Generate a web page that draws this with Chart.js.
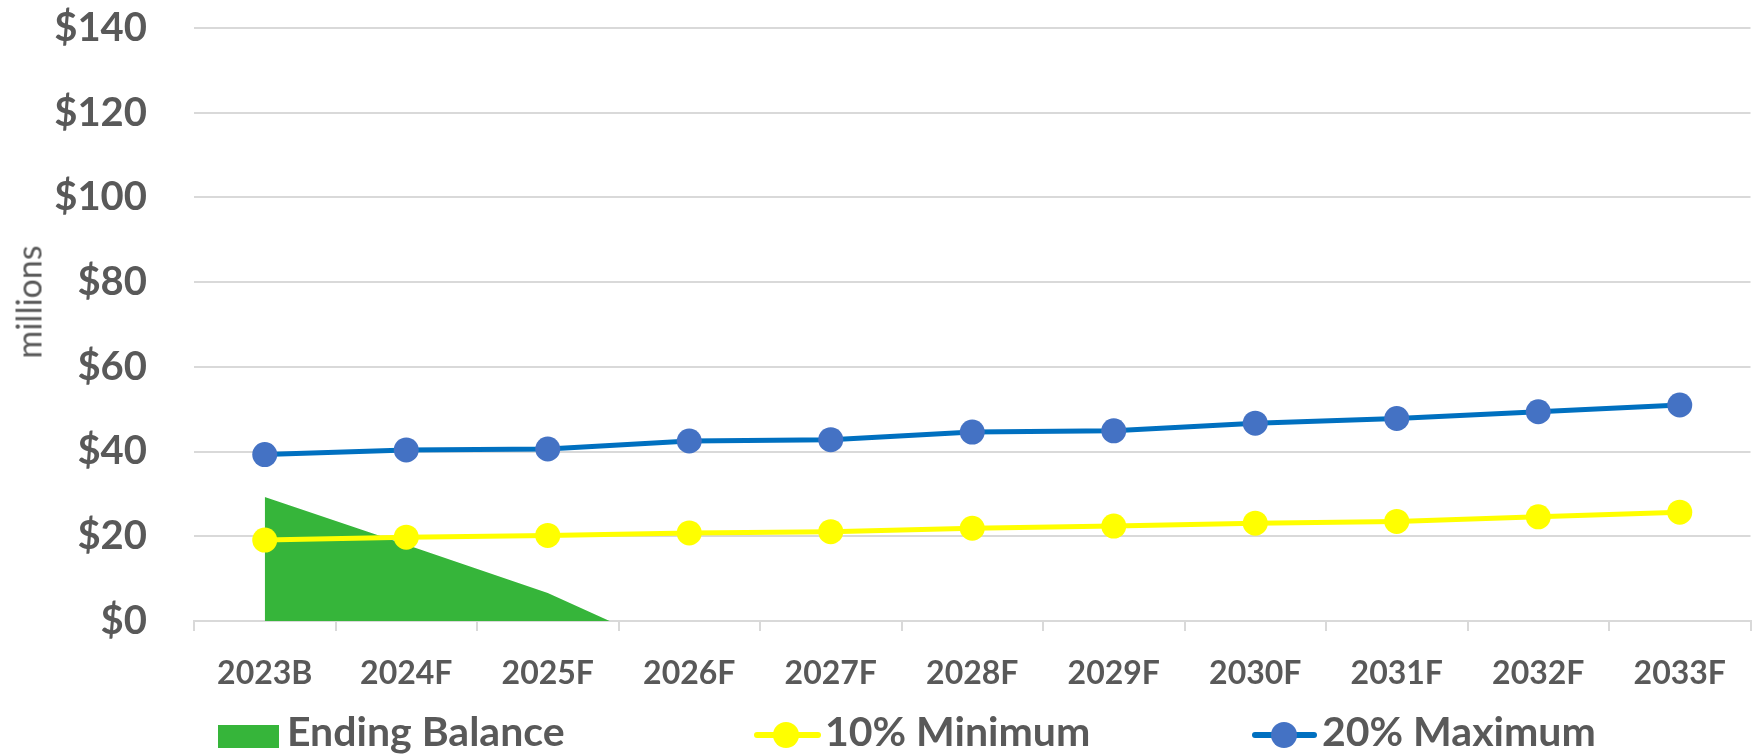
<!DOCTYPE html>
<html>
<head>
<meta charset="utf-8">
<script src="https://cdn.jsdelivr.net/npm/chart.js@4.4.9/dist/chart.umd.min.js"></script>
<style>
  html, body { margin:0; padding:0; background:#fff; }
  #wrap { position:relative; width:1763px; height:755px; font-family:Lato, sans-serif; color:#595959; }
  #chart { position:absolute; left:0; top:0; }
  .ytitle { position:absolute; left:28px; top:302px; font-size:34px; transform:translate(-50%,-50%) rotate(-90deg); white-space:nowrap; }
  .leg { position:absolute; top:713px; font-size:41px; font-weight:bold; line-height:36px; white-space:nowrap; }
  .sw { position:absolute; }
</style>
</head>
<body>
<div id="wrap">
  <canvas id="chart" width="1763" height="755"></canvas>
  <div class="ytitle">millions</div>
  <!-- legend -->
  <div class="sw" style="left:218px;top:725px;width:61px;height:23px;background:#36b53a"></div>
  <div class="leg" style="left:287px">Ending Balance</div>
  <div class="sw" style="left:754px;top:732px;width:67px;height:6px;background:#ffff00;border-radius:3px"></div>
  <div class="sw" style="left:773px;top:722px;width:26px;height:26px;background:#ffff00;border-radius:50%"></div>
  <div class="leg" style="left:825px">10% Minimum</div>
  <div class="sw" style="left:1252px;top:732px;width:65px;height:6px;background:#0070c0;border-radius:3px"></div>
  <div class="sw" style="left:1271px;top:722px;width:26px;height:26px;background:#4472c4;border-radius:50%"></div>
  <div class="leg" style="left:1322px">20% Maximum</div>
</div>
<script>
/* data */
const years = ['2023B','2024F','2025F','2026F','2027F','2028F','2029F','2030F','2031F','2032F','2033F'];
const endingBalance = [29.3, 18.0, 6.6, -8.5, -20, -31, -42, -53, -64, -75, -86];
const minimum10 = [19.1, 19.8, 20.2, 20.8, 21.1, 21.9, 22.4, 23.1, 23.5, 24.6, 25.7];
const maximum20 = [39.3, 40.4, 40.6, 42.5, 42.8, 44.6, 44.9, 46.7, 47.8, 49.4, 51.0];
const yTicks = [0, 20, 40, 60, 80, 100, 120, 140];

const grey = '#595959', gridCol = '#d9d9d9';

new Chart(document.getElementById('chart').getContext('2d'), {
  type: 'line',
  data: {
    labels: years,
    datasets: [
      { label:'Ending Balance', data:endingBalance, fill:'origin', backgroundColor:'#36b53a',
        borderWidth:0, pointRadius:0, tension:0, order:3 },
      { label:'10% Minimum', data:minimum10, borderColor:'#ffff00', borderWidth:5,
        pointRadius:12.5, pointBackgroundColor:'#ffff00', pointBorderWidth:0, tension:0, order:2 },
      { label:'20% Maximum', data:maximum20, borderColor:'#0070c0', borderWidth:5,
        pointRadius:12.5, pointBackgroundColor:'#4472c4', pointBorderWidth:0, tension:0, order:1 }
    ]
  },
  options: {
    responsive:false, animation:false,
    layout:{ padding:{ top:28, right:10, bottom:54, left:0 } },
    plugins:{ legend:{display:false}, tooltip:{enabled:false} },
    scales:{
      x:{
        offset:true,
        grid:{ offset:true, drawOnChartArea:false, tickLength:10, color:gridCol, lineWidth:2 },
        border:{ color:gridCol, width:2 },
        ticks:{ font:{family:'Lato', size:32, weight:'bold'}, color:grey, padding:23, maxRotation:0 },
        afterFit: s => { s.height = 80; }
      },
      y:{
        min:0, max:140,
        afterBuildTicks: s => { s.ticks = yTicks.map(v => ({value:v})); },
        // blank tick marks push labels left without adding top padding
        grid:{ color:gridCol, lineWidth:2, tickLength:47, tickColor:'rgba(0,0,0,0)' },
        border:{ display:false },
        ticks:{ font:{family:'Lato', size:40, weight:'bold'}, color:grey, padding:0,
                callback: v => '$' + v },
        afterFit: s => { s.width = 194; }
      }
    }
  }
});
</script>
</body>
</html>
